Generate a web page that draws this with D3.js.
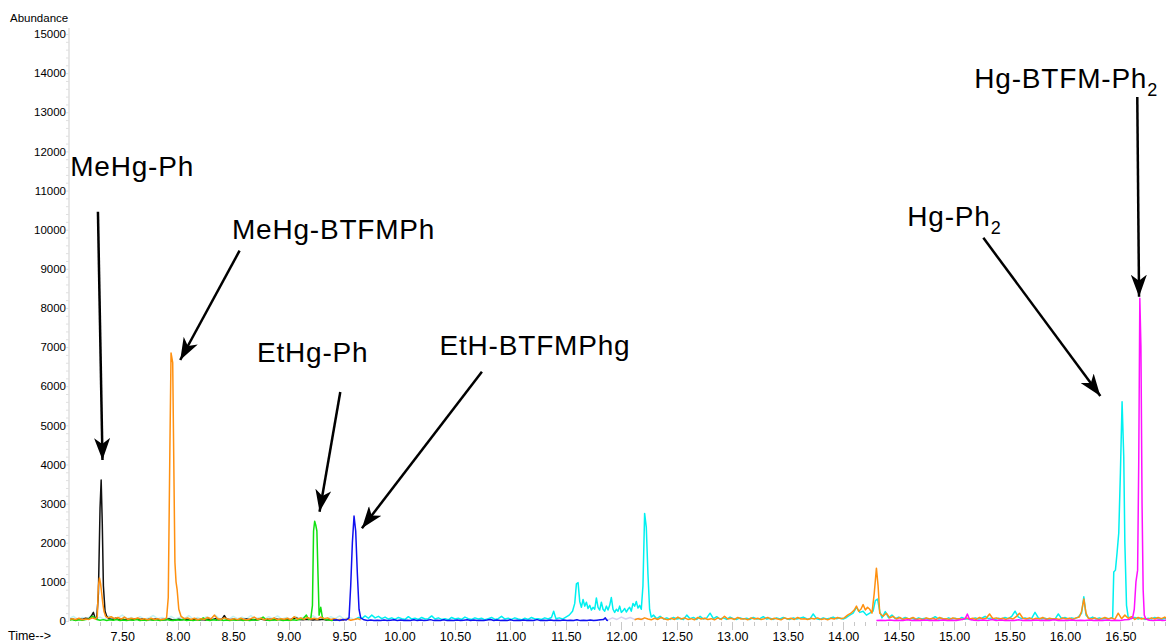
<!DOCTYPE html>
<html><head><meta charset="utf-8">
<script src="https://cdn.jsdelivr.net/npm/d3@7"></script>
<style>body{margin:0;background:#fff} svg{display:block;font-family:"Liberation Sans",Arial,sans-serif}</style>
</head><body><svg id="c" width="1166" height="643"></svg>
<script>
// ---------- data ----------
const xDomain = [7.02, 16.92];
const yDomain = [0, 15000];
const xTicks = [7.5,8,8.5,9,9.5,10,10.5,11,11.5,12,12.5,13,13.5,14,14.5,15,15.5,16,16.5];
const yTicks = [0,1000,2000,3000,4000,5000,6000,7000,8000,9000,10000,11000,12000,13000,14000,15000];

const paleCyan = [[7.02,60],[7.06,120],[7.10,40],[7.14,90],[7.18,50],[7.22,140],[7.26,60],[7.30,100],[7.34,40],[7.38,130],[7.42,50],[7.46,80],[7.50,150],[7.54,60],[7.58,90],[7.62,40],[7.66,110],[7.70,50],[7.74,80],[7.78,140],[7.82,60],[7.86,90],[7.90,40],[7.94,120],[7.98,50],[8.02,100],[8.06,60],[8.10,140],[8.14,50],[8.18,90],[8.22,40],[8.26,110],[8.30,60],[8.34,150],[8.38,50],[8.42,90],[8.46,40],[8.50,120],[8.54,60],[8.58,100],[8.62,50],[8.66,140],[8.70,60],[8.74,90],[8.78,40],[8.82,110],[8.86,60],[8.90,130],[8.94,50],[8.98,90],[9.02,40],[9.06,120],[9.10,60],[9.14,100],[9.18,50],[9.22,140],[9.26,60],[9.30,90],[9.34,40],[9.38,110],[9.42,60],[9.46,130],[9.50,50],[9.54,90],[9.58,60]];

const lavender = [[11.80,20],[11.84,60],[11.88,30],[11.92,80],[11.96,40],[12.00,100],[12.04,50],[12.08,90],[12.12,40],[12.16,70],[12.20,30]];

const black = [[7.02,30],[7.05,50],[7.08,20],[7.11,60],[7.14,40],[7.17,70],[7.20,60],[7.22,120],[7.24,220],[7.255,80],[7.27,60],[7.285,700],[7.30,2900],[7.31,3600],[7.32,2500],[7.33,900],[7.345,250],[7.36,120],[7.38,60],[7.41,40],[7.44,70],[7.47,30],[7.50,55],[7.53,25],[7.56,45],[7.59,30],[7.62,60],[7.65,35],[7.68,50],[7.71,20],[7.74,45],[7.77,30],[7.80,55],[7.83,25],[7.86,40],[7.89,30],[7.92,55],[7.95,35],[7.98,25],[8.01,45],[8.04,30],[8.07,50],[8.10,35],[8.13,25],[8.16,45],[8.19,30],[8.22,40],[8.25,25],[8.28,50],[8.31,35],[8.34,60],[8.37,30],[8.40,45],[8.42,140],[8.44,50],[8.47,30],[8.50,45],[8.53,25],[8.56,40],[8.59,30],[8.62,55],[8.65,30],[8.68,40],[8.71,25],[8.74,50],[8.77,35],[8.80,25],[8.83,45],[8.86,30],[8.89,50],[8.92,35],[8.95,25],[8.98,40],[9.01,30],[9.04,55],[9.07,80],[9.10,40],[9.13,30],[9.16,45],[9.19,35],[9.22,25],[9.25,40],[9.28,30],[9.31,45],[9.34,25],[9.37,35],[9.40,30],[9.43,20],[9.46,35],[9.50,25]];

const green = [[7.02,20],[7.05,40],[7.08,15],[7.11,30],[7.14,20],[7.17,35],[7.20,50],[7.23,120],[7.25,90],[7.27,40],[7.30,20],[7.33,35],[7.36,15],[7.39,30],[7.42,20],[7.45,40],[7.48,15],[7.51,25],[7.54,10],[7.57,30],[7.60,20],[7.63,40],[7.66,15],[7.69,25],[7.72,10],[7.75,35],[7.78,20],[7.81,30],[7.84,15],[7.87,25],[7.90,40],[7.93,20],[7.96,15],[7.99,30],[8.02,20],[8.05,40],[8.08,15],[8.11,25],[8.14,10],[8.17,30],[8.20,20],[8.23,80],[8.26,25],[8.29,15],[8.32,30],[8.35,20],[8.38,40],[8.41,15],[8.44,25],[8.47,10],[8.50,30],[8.53,20],[8.56,40],[8.59,15],[8.62,25],[8.65,10],[8.68,30],[8.71,20],[8.74,40],[8.77,100],[8.80,25],[8.83,15],[8.86,30],[8.89,20],[8.92,40],[8.95,15],[8.98,25],[9.01,10],[9.04,30],[9.07,20],[9.10,40],[9.13,60],[9.16,150],[9.18,40],[9.20,60],[9.215,400],[9.225,2300],[9.235,2550],[9.245,2450],[9.255,2300],[9.265,1200],[9.275,150],[9.29,350],[9.305,80],[9.33,40],[9.36,25],[9.39,15],[9.42,30],[9.45,20]];

const orange = [[7.02,30],[7.05,60],[7.08,40],[7.11,70],[7.14,30],[7.17,50],[7.20,40],[7.23,80],[7.26,50],[7.275,100],[7.285,900],[7.295,1100],[7.305,950],[7.315,700],[7.325,450],[7.335,250],[7.35,120],[7.37,80],[7.40,110],[7.43,60],[7.46,90],[7.49,50],[7.52,100],[7.55,40],[7.58,70],[7.61,50],[7.64,80],[7.67,40],[7.70,60],[7.73,30],[7.76,70],[7.79,40],[7.82,60],[7.85,30],[7.88,50],[7.90,80],[7.915,600],[7.93,4500],[7.94,6850],[7.955,6600],[7.965,4000],[7.975,1500],[7.985,1000],[7.995,800],[8.01,300],[8.03,120],[8.06,60],[8.09,80],[8.12,40],[8.15,70],[8.18,30],[8.21,60],[8.24,40],[8.27,90],[8.30,50],[8.33,150],[8.36,60],[8.39,40],[8.42,80],[8.45,50],[8.48,30],[8.51,60],[8.54,35],[8.57,70],[8.60,40],[8.63,30],[8.66,60],[8.69,100],[8.72,40],[8.75,70],[8.78,30],[8.81,60],[8.84,40],[8.87,80],[8.90,30],[8.93,60],[8.96,45],[8.99,70],[9.02,30],[9.05,110],[9.08,50],[9.11,80],[9.14,40],[9.17,90],[9.20,50],[9.23,70],[9.26,40],[9.29,100],[9.32,60],[9.35,80],[9.38,40],[9.41,60],[9.44,30],[9.47,40],[9.50,30],[9.53,50],[9.56,20],[9.59,40],[9.62,60],[9.65,30]];

const orangeLate = [[12.12,30],[12.15,60],[12.18,40],[12.21,80],[12.24,50],[12.27,30],[12.30,70],[12.33,40],[12.36,90],[12.39,50],[12.42,30],[12.45,70],[12.48,40],[12.51,100],[12.54,50],[12.57,80],[12.60,40],[12.63,60],[12.66,30],[12.69,90],[12.72,50],[12.75,70],[12.78,40],[12.81,60],[12.84,30],[12.87,80],[12.90,40],[12.93,120],[12.96,50],[12.99,70],[13.02,40],[13.05,90],[13.08,50],[13.11,60],[13.14,30],[13.17,80],[13.20,50],[13.23,70],[13.26,40],[13.29,60],[13.32,90],[13.35,40],[13.38,70],[13.41,50],[13.44,30],[13.47,80],[13.50,50],[13.53,70],[13.56,40],[13.59,90],[13.62,50],[13.65,60],[13.68,40],[13.71,70],[13.74,50],[13.77,80],[13.80,40],[13.83,60],[13.86,30],[13.89,70],[13.92,50],[13.95,90],[13.98,60],[14.01,80],[14.04,150],[14.07,200],[14.10,280],[14.12,380],[14.14,250],[14.16,300],[14.18,420],[14.20,280],[14.22,350],[14.24,300],[14.26,200],[14.28,700],[14.30,1350],[14.315,900],[14.33,200],[14.36,120],[14.39,200],[14.42,80],[14.45,120],[14.48,50],[14.51,90],[14.54,40],[14.57,70],[14.60,50],[14.63,90],[14.66,40],[14.69,60],[14.72,30],[14.75,80],[14.78,50],[14.81,70],[14.84,40],[14.87,90],[14.90,50],[14.93,60],[14.96,40],[14.99,80],[15.02,50],[15.05,60],[15.08,40],[15.11,80],[15.14,50],[15.17,70],[15.20,40],[15.23,90],[15.26,50],[15.29,70],[15.32,180],[15.35,60],[15.38,80],[15.41,50],[15.44,70],[15.47,40],[15.50,80],[15.53,50],[15.56,110],[15.59,200],[15.62,70],[15.65,50],[15.68,80],[15.71,40],[15.74,70],[15.77,50],[15.80,90],[15.83,40],[15.86,70],[15.89,50],[15.92,60],[15.95,40],[15.98,80],[16.01,50],[16.04,70],[16.07,40],[16.10,80],[16.13,100],[16.15,250],[16.17,560],[16.19,200],[16.21,70],[16.24,50],[16.27,80],[16.30,40],[16.33,60],[16.36,90],[16.39,50],[16.42,80],[16.45,40],[16.48,200],[16.51,60],[16.54,150],[16.57,70],[16.60,110],[16.63,40],[16.66,90],[16.69,50],[16.72,70],[16.75,40],[16.78,80],[16.81,50],[16.84,90],[16.87,60],[16.90,100],[16.92,40]];

const blue = [[9.40,20],[9.43,30],[9.46,15],[9.49,40],[9.52,25],[9.545,80],[9.56,900],[9.575,2000],[9.59,2680],[9.605,2300],[9.62,1200],[9.635,300],[9.65,80],[9.68,30],[9.71,15],[9.74,25],[9.77,10],[9.80,20],[9.83,15],[9.86,25],[9.89,10],[9.92,20],[9.95,30],[9.98,15],[10.01,25],[10.04,10],[10.07,20],[10.10,15],[10.13,30],[10.16,10],[10.19,25],[10.22,15],[10.25,20],[10.28,35],[10.31,10],[10.34,20],[10.37,15],[10.40,30],[10.43,10],[10.46,20],[10.49,15],[10.52,25],[10.55,10],[10.58,20],[10.61,30],[10.64,15],[10.67,25],[10.70,10],[10.73,20],[10.76,15],[10.79,25],[10.82,40],[10.85,15],[10.88,25],[10.91,10],[10.94,20],[10.97,15],[11.00,30],[11.03,10],[11.06,20],[11.09,15],[11.12,25],[11.15,10],[11.18,20],[11.21,15],[11.24,35],[11.27,10],[11.30,20],[11.33,15],[11.36,25],[11.39,10],[11.42,20],[11.45,15],[11.48,25],[11.51,10],[11.54,20],[11.57,15],[11.60,30],[11.63,10],[11.66,20],[11.69,15],[11.72,25],[11.75,10],[11.78,20],[11.81,30],[11.84,40],[11.855,80],[11.87,20],[11.88,10]];

const cyan = [[9.60,40],[9.63,90],[9.66,60],[9.69,130],[9.72,70],[9.75,150],[9.78,80],[9.81,120],[9.84,60],[9.87,100],[9.90,50],[9.93,80],[9.96,40],[9.99,90],[10.02,60],[10.05,40],[10.08,110],[10.11,50],[10.14,70],[10.17,40],[10.20,90],[10.23,50],[10.26,60],[10.29,130],[10.32,50],[10.35,80],[10.38,40],[10.41,60],[10.44,30],[10.47,90],[10.50,50],[10.53,70],[10.56,40],[10.59,100],[10.62,60],[10.65,40],[10.68,80],[10.71,50],[10.74,70],[10.77,30],[10.80,60],[10.83,90],[10.86,40],[10.89,60],[10.92,120],[10.95,50],[10.98,70],[11.01,40],[11.04,80],[11.07,50],[11.10,30],[11.13,70],[11.16,40],[11.19,90],[11.22,50],[11.25,60],[11.28,40],[11.31,80],[11.34,50],[11.37,90],[11.39,250],[11.41,60],[11.44,80],[11.47,50],[11.50,100],[11.53,150],[11.56,250],[11.58,450],[11.595,950],[11.61,980],[11.625,500],[11.64,350],[11.655,550],[11.67,380],[11.685,480],[11.70,320],[11.715,400],[11.73,280],[11.745,350],[11.76,300],[11.775,590],[11.79,350],[11.805,280],[11.82,480],[11.835,300],[11.85,250],[11.865,380],[11.88,280],[11.895,400],[11.91,600],[11.925,300],[11.94,220],[11.955,300],[11.97,250],[11.985,380],[12.00,220],[12.015,260],[12.03,320],[12.045,230],[12.06,300],[12.075,350],[12.09,250],[12.105,450],[12.12,380],[12.135,500],[12.15,330],[12.165,400],[12.18,300],[12.195,900],[12.21,2750],[12.225,2400],[12.24,1200],[12.255,300],[12.27,100],[12.29,150],[12.32,60],[12.35,120],[12.38,50],[12.41,80],[12.44,40],[12.47,90],[12.50,50],[12.53,70],[12.56,40],[12.59,150],[12.62,60],[12.65,90],[12.68,40],[12.71,120],[12.74,50],[12.77,80],[12.80,200],[12.83,60],[12.86,110],[12.89,50],[12.92,80],[12.95,40],[12.98,100],[13.01,60],[13.04,40],[13.07,80],[13.10,50],[13.13,70],[13.16,40],[13.19,90],[13.22,50],[13.25,60],[13.28,110],[13.31,50],[13.34,70],[13.37,40],[13.40,80],[13.43,50],[13.46,90],[13.49,60],[13.52,40],[13.55,80],[13.58,50],[13.61,70],[13.64,100],[13.67,60],[13.70,50],[13.73,180],[13.76,60],[13.79,40],[13.82,80],[13.85,50],[13.88,70],[13.91,100],[13.94,60],[13.97,80],[14.00,50],[14.03,90],[14.06,150],[14.09,200],[14.12,350],[14.15,220],[14.18,250],[14.21,150],[14.24,200],[14.27,250],[14.29,520],[14.31,560],[14.33,250],[14.35,80],[14.38,240],[14.41,80],[14.44,150],[14.47,60],[14.50,100],[14.53,50],[14.56,90],[14.59,50],[14.62,70],[14.65,40],[14.68,80],[14.71,50],[14.74,70],[14.77,40],[14.80,60],[14.83,110],[14.86,50],[14.89,70],[14.92,40],[14.95,80],[14.98,50],[15.01,70],[15.04,40],[15.07,90],[15.10,50],[15.13,60],[15.16,40],[15.19,80],[15.22,50],[15.25,70],[15.28,120],[15.31,60],[15.34,80],[15.37,40],[15.40,70],[15.43,50],[15.46,90],[15.49,60],[15.52,120],[15.55,250],[15.58,100],[15.61,60],[15.64,80],[15.67,50],[15.70,70],[15.73,220],[15.76,80],[15.79,50],[15.82,70],[15.85,40],[15.88,60],[15.91,50],[15.94,180],[15.97,60],[16.00,90],[16.03,50],[16.06,80],[16.09,60],[16.12,100],[16.15,200],[16.17,620],[16.19,150],[16.22,60],[16.25,100],[16.28,50],[16.31,80],[16.34,50],[16.37,70],[16.40,60],[16.43,90],[16.44,1250],[16.455,1300],[16.47,1750],[16.485,2250],[16.50,3800],[16.515,5600],[16.53,4200],[16.54,2000],[16.555,400],[16.57,100],[16.60,60],[16.63,90],[16.66,50],[16.69,80],[16.72,40],[16.75,70],[16.78,50],[16.81,90],[16.84,60],[16.87,40],[16.90,70],[16.92,50]];

const magenta = [[14.30,10],[14.34,20],[14.38,15],[14.42,25],[14.46,10],[14.50,20],[14.54,15],[14.58,30],[14.62,10],[14.66,20],[14.70,15],[14.74,25],[14.78,10],[14.82,20],[14.86,15],[14.90,25],[14.94,10],[14.98,20],[15.02,15],[15.06,30],[15.10,60],[15.12,180],[15.14,40],[15.18,20],[15.22,15],[15.26,25],[15.30,10],[15.34,40],[15.38,15],[15.42,25],[15.46,10],[15.50,20],[15.54,15],[15.58,30],[15.62,10],[15.66,20],[15.70,15],[15.74,25],[15.78,10],[15.82,20],[15.86,15],[15.90,30],[15.94,10],[15.98,20],[16.02,15],[16.06,25],[16.10,10],[16.14,20],[16.18,15],[16.22,25],[16.26,10],[16.30,20],[16.34,15],[16.38,25],[16.42,10],[16.46,20],[16.50,15],[16.54,30],[16.58,40],[16.61,80],[16.625,300],[16.64,1000],[16.655,1300],[16.665,4000],[16.675,8250],[16.685,7000],[16.695,3000],[16.705,800],[16.715,150],[16.73,50],[16.76,20],[16.80,15],[16.84,25],[16.88,10],[16.92,20]];

const seriesData = [paleCyan, lavender, cyan, black, green, orange, orangeLate, blue, magenta];
const seriesColors = ["#c4f2f2", "#d8d0f0", "#00f0f0", "#111111", "#10e010", "#ff9010", "#ff9010", "#1010f0", "#ff10ff"];

const annText = ["MeHg-Ph", "MeHg-BTFMPh", "EtHg-Ph", "EtH-BTFMPhg", "Hg-Ph", "Hg-BTFM-Ph"];
const annSub = ["", "", "", "", "2", "2"];
const annTextPos = [[7.031,11372],[8.489,9762],[8.715,6626],[10.361,6797],[14.578,10094],[15.183,13620]];
const annFrom = [[7.281,10459],[8.558,9463],[9.466,5852],[10.743,6371],[15.264,9791],[16.652,13390]];
const annTo = [[7.322,4114],[8.023,6670],[9.279,2793],[9.661,2369],[16.319,5750],[16.668,8287]];

// ---------- chart ----------
const svg = d3.select("#c");
const x = d3.scaleLinear().domain(xDomain).range([69, 1167]);
const y = d3.scaleLinear().domain(yDomain).range([621, 34]);

// y axis
const yAxis = d3.axisLeft(y).tickValues(yTicks).tickSize(0).tickPadding(3).tickFormat(d3.format("d"));
const gy = svg.append("g").attr("transform", "translate(69,0)").call(yAxis);
gy.select(".domain").remove();
gy.selectAll("text").attr("font-size", 11.5).attr("fill", "#000").attr("font-family", '"Liberation Sans",Arial,sans-serif');
svg.append("line").attr("x1", 69).attr("x2", 69).attr("y1", 28).attr("y2", 621).attr("stroke", "#cfcfcf").attr("stroke-width", 1);
svg.append("g").selectAll("line").data(d3.range(0, 15001, 200)).join("line")
  .attr("x1", 66).attr("x2", 69).attr("y1", d => y(d) + 0.5).attr("y2", d => y(d) + 0.5)
  .attr("stroke", "#e0e0e0");

// x axis
const xAxis = d3.axisBottom(x).tickValues(xTicks).tickSize(0).tickPadding(11).tickFormat(d3.format(".2f"));
const gx = svg.append("g").attr("transform", "translate(0,621)").call(xAxis);
gx.select(".domain").remove();
gx.selectAll("text").attr("font-size", 12.5).attr("fill", "#000").attr("font-family", '"Liberation Sans",Arial,sans-serif');
svg.append("g").selectAll("line").data(d3.range(71, 170).map(d => d / 10)).join("line")
  .attr("x1", d => Math.round(x(d)) + 0.5).attr("x2", d => Math.round(x(d)) + 0.5)
  .attr("y1", 622).attr("y2", d => (Math.abs(d * 2 - Math.round(d * 2)) < 1e-6) ? 630 : 626)
  .attr("stroke", "#c8c8c8");

svg.append("text").attr("x", 10).attr("y", 22).attr("font-size", 11.5).text("Abundance");
svg.append("text").attr("x", 8).attr("y", 640).attr("font-size", 12.5).text("Time-->");

// traces
const line = d3.line().x(d => x(d[0])).y(d => y(d[1]));
svg.append("clipPath").attr("id", "clp").append("rect").attr("x", 70).attr("y", 0).attr("width", 1100).attr("height", 622);
svg.append("g").attr("clip-path", "url(#clp)").selectAll("path").data(seriesData).join("path")
  .attr("d", line).attr("fill", "none")
  .attr("stroke", (d, i) => seriesColors[i]).attr("stroke-width", 1.5).attr("stroke-linejoin", "round");

// annotations
const defs = svg.append("defs");
defs.append("marker").attr("id", "ah").attr("markerUnits", "userSpaceOnUse")
  .attr("markerWidth", 24).attr("markerHeight", 16).attr("refX", 22).attr("refY", 8).attr("orient", "auto")
  .append("path").attr("d", "M0,0 L22,8 L0,16 L6,8 Z").attr("fill", "#000");

svg.append("g").selectAll("line").data(annFrom).join("line")
  .attr("x1", d => x(d[0])).attr("y1", d => y(d[1]))
  .attr("x2", (d, i) => x(annTo[i][0])).attr("y2", (d, i) => y(annTo[i][1]))
  .attr("stroke", "#000").attr("stroke-width", 2.5).attr("marker-end", "url(#ah)");

const labels = svg.append("g").selectAll("text").data(annText).join("text")
  .attr("x", (d, i) => x(annTextPos[i][0])).attr("y", (d, i) => y(annTextPos[i][1]))
  .attr("font-size", 28).attr("letter-spacing", 0.8).attr("fill", "#000");
labels.append("tspan").text(d => d);
labels.append("tspan").attr("dy", 8).attr("font-size", 18).text((d, i) => annSub[i]);
</script></body></html>
